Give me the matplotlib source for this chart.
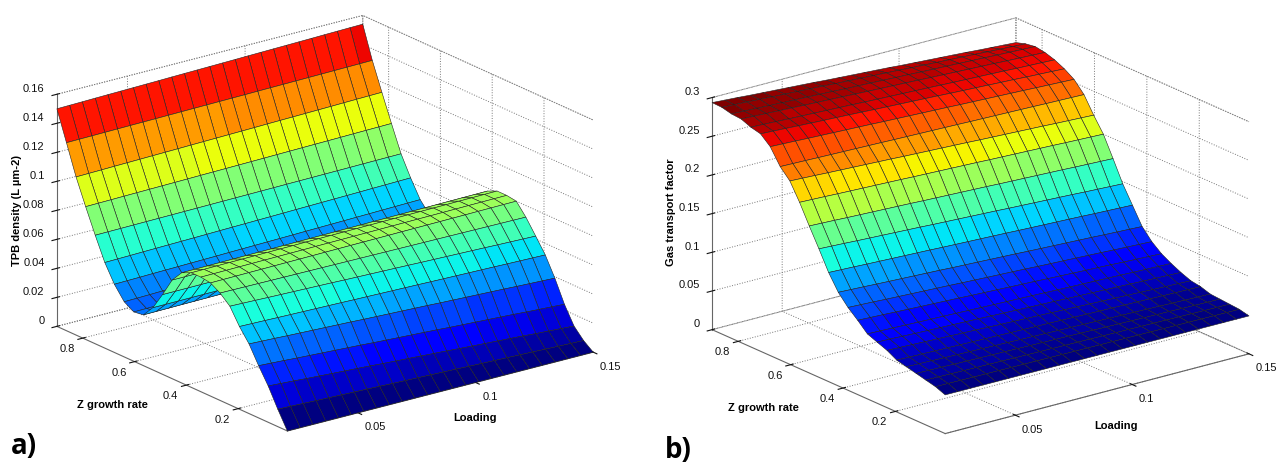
import numpy as np
import matplotlib
matplotlib.use('Agg')
import matplotlib.pyplot as plt
from mpl_toolkits.mplot3d import Axes3D

plt.rcParams['font.family'] = ['Liberation Sans', 'DejaVu Sans']
plt.rcParams['grid.linestyle'] = ':'
plt.rcParams['grid.color'] = '#777777'
plt.rcParams['grid.linewidth'] = 0.7

# valores: malha e perfis nas duas bordas de Loading
loading = [0.02, 0.0254, 0.0308, 0.0363, 0.0417, 0.0471, 0.0525, 0.0579, 0.0633, 0.0688,
           0.0742, 0.0796, 0.085, 0.0904, 0.0958, 0.1013, 0.1067, 0.1121, 0.1175, 0.1229,
           0.1283, 0.1338, 0.1392, 0.1446, 0.15]
z_rate = [0.01, 0.047, 0.084, 0.121, 0.158, 0.195, 0.232, 0.27, 0.307, 0.344,
          0.381, 0.418, 0.455, 0.492, 0.529, 0.566, 0.603, 0.64, 0.678, 0.715,
          0.752, 0.789, 0.826, 0.863, 0.9]
# peso de cada coluna entre o perfil da esquerda e o da direita
peso = [0.0, 0.04, 0.08, 0.13, 0.17, 0.21, 0.25, 0.29, 0.33, 0.38, 0.42, 0.46, 0.5,
        0.54, 0.58, 0.63, 0.67, 0.71, 0.75, 0.79, 0.83, 0.88, 0.92, 0.96, 1.0]

tpb_esq = [0.0, 0.012, 0.025, 0.036, 0.048, 0.057, 0.068, 0.074, 0.078, 0.079, 0.079,
           0.076, 0.068, 0.055, 0.043, 0.035, 0.034, 0.038, 0.047, 0.059, 0.0748,
           0.0915, 0.109, 0.1296, 0.15]
tpb_dir = [0.0, 0.005, 0.012, 0.024, 0.039, 0.052, 0.062, 0.072, 0.08, 0.081, 0.081,
           0.078, 0.069, 0.056, 0.044, 0.037, 0.037, 0.043, 0.051, 0.063, 0.0766,
           0.0945, 0.113, 0.132, 0.154]
gas_esq = [0.05, 0.055, 0.058, 0.061, 0.064, 0.067, 0.074, 0.079, 0.084, 0.096, 0.107,
           0.121, 0.141, 0.166, 0.19, 0.215, 0.237, 0.25, 0.27, 0.281, 0.284,
           0.289, 0.29, 0.293, 0.2935]
gas_dir = [0.049, 0.052, 0.053, 0.054, 0.055, 0.059, 0.061, 0.066, 0.072, 0.079, 0.089,
           0.103, 0.125, 0.147, 0.174, 0.2, 0.219, 0.24, 0.254, 0.262, 0.268,
           0.272, 0.274, 0.272, 0.268]

x_ticks = [0.05, 0.1, 0.15]
y_ticks = [0.2, 0.4, 0.6, 0.8]
tpb_ticks = [0, 0.02, 0.04, 0.06, 0.08, 0.1, 0.12, 0.14, 0.16]
gas_ticks = [0, 0.05, 0.1, 0.15, 0.2, 0.25, 0.3]


def superficie(rect, esq, dir_, zticks, azim, cmax):
    ax = plt.gcf().add_axes(rect, projection='3d', computed_zorder=False)
    ax.set_proj_type('ortho')
    ax.view_init(elev=20, azim=azim)
    ax.set_box_aspect((1, 1, 0.645), zoom=1.24)

    X, Y = np.meshgrid(loading, z_rate)
    w = np.array(peso)
    Z = np.outer(esq, 1 - w) + np.outer(dir_, w)

    # cor plana: cada faceta pega o valor do primeiro vertice, como no matlab
    norm = plt.Normalize(Z.min(), cmax)
    cores = plt.get_cmap('jet', 64)(norm(Z))
    surf = ax.plot_surface(X, Y, Z, facecolors=cores, rstride=1, cstride=1, shade=False,
                           edgecolor='#222222', linewidth=0.4, antialiased=True)
    surf.set_clip_on(False)

    ax.set_xlim(0.02, 0.15, view_margin=0)
    ax.set_ylim(0.01, 0.9, view_margin=0)
    ax.set_zlim(0, zticks[-1], view_margin=0)
    ax.set_xticks(x_ticks)
    ax.set_yticks(y_ticks)
    ax.set_zticks(zticks)
    ax.set_xticklabels([f'{t:g}' for t in x_ticks], ha='left')
    ax.set_yticklabels([f'{t:g}' for t in y_ticks], ha='center', va='bottom')
    ax.set_zticklabels([f'{t:g}' for t in zticks], ha='right', va='bottom')
    ax.tick_params(labelsize=8, colors='#111111')
    ax.xaxis.set_tick_params(pad=-3)
    ax.yaxis.set_tick_params(pad=1)
    ax.zaxis.set_tick_params(pad=-4)

    for eixo in (ax.xaxis, ax.yaxis, ax.zaxis):
        eixo.set_pane_color((1, 1, 1, 1))
        eixo.pane.set_edgecolor('#777777')
        eixo.pane.set_linestyle(':')
        eixo.pane.set_linewidth(0.7)
        eixo.line.set_color('#666666')
        eixo.line.set_linewidth(0.8)
    ax.zaxis.set_ticks_position('upper')
    ax.patch.set_alpha(0)
    return ax


fig = plt.figure(figsize=(12.87, 4.66), dpi=100)

superficie([-3 / 1287, 3.5 / 466, 0.5, 1.0], tpb_esq, tpb_dir, tpb_ticks, -127, 0.148)
superficie([0.5 + 9 / 1287, 1 / 466, 0.5, 1.0], gas_esq, gas_dir, gas_ticks, -127.5, 0.2935)

fig.text(17 / 1287, 1 - 210 / 466, 'TPB density (L µm-2)', rotation=90, ha='center', va='center',
         fontsize=8, fontweight='bold')
fig.text(112 / 1287, 1 - 405 / 466, 'Z growth rate', ha='center', va='center', fontsize=8, fontweight='bold')
fig.text(475 / 1287, 1 - 418 / 466, 'Loading', ha='center', va='center', fontsize=8, fontweight='bold')
fig.text(671 / 1287, 1 - 212 / 466, 'Gas transport factor', rotation=90, ha='center', va='center',
         fontsize=8, fontweight='bold')
fig.text(763 / 1287, 1 - 408 / 466, 'Z growth rate', ha='center', va='center', fontsize=8, fontweight='bold')
fig.text(1116 / 1287, 1 - 426 / 466, 'Loading', ha='center', va='center', fontsize=8, fontweight='bold')
fig.text(24 / 1287, 1 - 447 / 466, 'a)', ha='center', va='center', fontsize=20, fontweight='bold', family='Open Sans')
fig.text(678 / 1287, 1 - 450 / 466, 'b)', ha='center', va='center', fontsize=20, fontweight='bold', family='Open Sans')

fig.savefig('out.png', dpi=100)
